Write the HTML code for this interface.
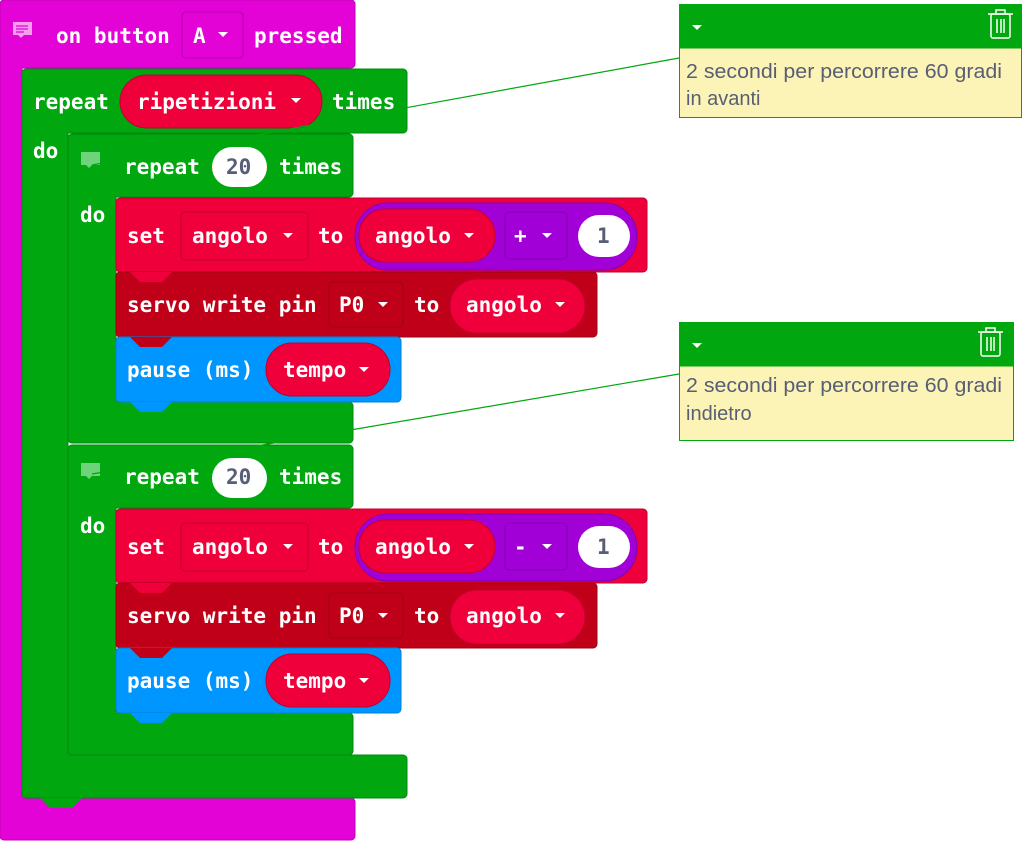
<!DOCTYPE html>
<html><head><meta charset="utf-8"><style>
html,body{margin:0;padding:0;background:#fff;width:1024px;height:841px;overflow:hidden}
svg text{font-family:"DejaVu Sans Mono","Liberation Mono",monospace;font-size:21px;font-weight:bold;fill:#fff;dominant-baseline:central}
svg text.c{font-family:"Liberation Sans",sans-serif;font-size:20px;font-weight:normal;fill:#575e75}
</style></head><body>
<svg width="1024" height="841" viewBox="0 0 1024 841" xmlns="http://www.w3.org/2000/svg">
<path d="M4,0 H351 a4,4 0 0 1 4,4 V64 a4,4 0 0 1 -4,4 H22 V798 H351 a4,4 0 0 1 4,4 V836 a4,4 0 0 1 -4,4 H4 a4,4 0 0 1 -4,-4 V4 a4,4 0 0 1 4,-4Z" fill="#e303d6" stroke="#c000b5" stroke-width="1"/>
<rect x="13" y="22" width="19" height="13" fill="#f59ef0"/><path d="M18,35 l3,3 l3,-3z" fill="#f59ef0"/>
<path d="M16,26h12M16,29h12M16,32h8" stroke="#e303d6" stroke-width="1.2"/>
<text x="56" y="36">on button</text>
<rect x="182" y="12" width="61" height="46" rx="4" fill="#e303d6" stroke="#b300a8"/>
<text x="193" y="36">A</text><path d="M218,32h10l-5,5z" fill="#fff"/>
<text x="254" y="36">pressed</text>

<path d="M26,69 H403 a4,4 0 0 1 4,4 V129 a4,4 0 0 1 -4,4 H68 V755 H403 a4,4 0 0 1 4,4 V794 a4,4 0 0 1 -4,4 H26 a4,4 0 0 1 -4,-4 V73 a4,4 0 0 1 4,-4Z" fill="#00a70f" stroke="#008a0c"/>
<path d="M40,798 l10,10 h22 l10,-10z" fill="#00a70f"/>
<text x="33" y="102">repeat</text>
<rect x="120" y="75" width="202" height="53" rx="26.5" fill="#f0003b" stroke="#c0002f"/>
<text x="137" y="102">ripetizioni</text><path d="M291,98h10l-5,5z" fill="#fff"/>
<text x="332" y="102">times</text>
<text x="33" y="151">do</text>

<path d="M72,134 H349 a4,4 0 0 1 4,4 V193 a4,4 0 0 1 -4,4 H116 V402 H349 a4,4 0 0 1 4,4 V439 a4,4 0 0 1 -4,4 H72 a4,4 0 0 1 -4,-4 V138 a4,4 0 0 1 4,-4Z" fill="#00a70f" stroke="#008a0c"/>
<rect x="81" y="152" width="19" height="13" fill="#6fd37b"/><path d="M86,165 l3,3 l3,-3z" fill="#6fd37b"/>
<text x="124" y="167">repeat</text>
<rect x="212" y="147" width="55" height="40" rx="20" fill="#fff"/>
<text x="226" y="167" style="fill:#575e75">20</text>
<text x="279" y="167">times</text>
<text x="80" y="215">do</text>

<path d="M72,445 H349 a4,4 0 0 1 4,4 V504 a4,4 0 0 1 -4,4 H116 V713 H349 a4,4 0 0 1 4,4 V751 a4,4 0 0 1 -4,4 H72 a4,4 0 0 1 -4,-4 V449 a4,4 0 0 1 4,-4Z" fill="#00a70f" stroke="#008a0c"/>
<rect x="81" y="463" width="19" height="13" fill="#6fd37b"/><path d="M86,476 l3,3 l3,-3z" fill="#6fd37b"/>
<text x="124" y="477">repeat</text>
<rect x="212" y="458" width="55" height="40" rx="20" fill="#fff"/>
<text x="226" y="477" style="fill:#575e75">20</text>
<text x="279" y="477">times</text>
<text x="80" y="526">do</text>

<g id="g1">
<rect x="116" y="198" width="531" height="74" rx="4" fill="#f0003b" stroke="#c0002f"/>
<text x="127" y="236">set</text>
<rect x="181" y="212" width="127" height="48" rx="4" fill="#f0003b" stroke="#c0002f"/>
<text x="192" y="236">angolo</text><path d="M283,233h10l-5,5z" fill="#fff"/>
<text x="318" y="236">to</text>
<rect x="355" y="203" width="282" height="67" rx="33" fill="#a100d6" stroke="#8000b0"/>
<rect x="359" y="209" width="136" height="53" rx="26" fill="#f0003b" stroke="#c0002f"/>
<text x="375" y="236">angolo</text><path d="M464,233h10l-5,5z" fill="#fff"/>
<rect x="505" y="212" width="62" height="47" rx="4" fill="#a100d6" stroke="#8000b0"/>
<text x="514" y="236">+</text><path d="M542,233h10l-5,5z" fill="#fff"/>
<rect x="578" y="215" width="52" height="42" rx="21" fill="#fff"/>
<text x="597" y="236" style="fill:#575e75">1</text>
<rect x="116" y="272" width="481" height="65" rx="4" fill="#bf0018" stroke="#9e0014"/>
<path d="M130,272 l10,10 h22 l10,-10z" fill="#f0003b"/>
<text x="127" y="305">servo write pin</text>
<rect x="329" y="282" width="74" height="45" rx="4" fill="#bf0018" stroke="#9e0014"/>
<text x="339" y="305">P0</text><path d="M378,302h10l-5,5z" fill="#fff"/>
<text x="414" y="305">to</text>
<rect x="450" y="279" width="135" height="54" rx="27" fill="#f0003b" stroke="#c0002f"/>
<text x="466" y="305">angolo</text><path d="M555,302h10l-5,5z" fill="#fff"/>
<rect x="116" y="337" width="285" height="65" rx="4" fill="#0096ff" stroke="#0080d8"/>
<path d="M130,337 l10,10 h22 l10,-10z" fill="#bf0018"/>
<path d="M130,402 l10,10 h22 l10,-10z" fill="#0096ff"/>
<text x="127" y="370">pause (ms)</text>
<rect x="266" y="343" width="124" height="53" rx="26" fill="#f0003b" stroke="#c0002f"/>
<text x="283" y="370">tempo</text><path d="M359,367h10l-5,5z" fill="#fff"/>
</g>
<g transform="translate(0,311)">
<rect x="116" y="198" width="531" height="74" rx="4" fill="#f0003b" stroke="#c0002f"/>
<text x="127" y="236">set</text>
<rect x="181" y="212" width="127" height="48" rx="4" fill="#f0003b" stroke="#c0002f"/>
<text x="192" y="236">angolo</text><path d="M283,233h10l-5,5z" fill="#fff"/>
<text x="318" y="236">to</text>
<rect x="355" y="203" width="282" height="67" rx="33" fill="#a100d6" stroke="#8000b0"/>
<rect x="359" y="209" width="136" height="53" rx="26" fill="#f0003b" stroke="#c0002f"/>
<text x="375" y="236">angolo</text><path d="M464,233h10l-5,5z" fill="#fff"/>
<rect x="505" y="212" width="62" height="47" rx="4" fill="#a100d6" stroke="#8000b0"/>
<text x="514" y="236">-</text><path d="M542,233h10l-5,5z" fill="#fff"/>
<rect x="578" y="215" width="52" height="42" rx="21" fill="#fff"/>
<text x="597" y="236" style="fill:#575e75">1</text>
<rect x="116" y="272" width="481" height="65" rx="4" fill="#bf0018" stroke="#9e0014"/>
<path d="M130,272 l10,10 h22 l10,-10z" fill="#f0003b"/>
<text x="127" y="305">servo write pin</text>
<rect x="329" y="282" width="74" height="45" rx="4" fill="#bf0018" stroke="#9e0014"/>
<text x="339" y="305">P0</text><path d="M378,302h10l-5,5z" fill="#fff"/>
<text x="414" y="305">to</text>
<rect x="450" y="279" width="135" height="54" rx="27" fill="#f0003b" stroke="#c0002f"/>
<text x="466" y="305">angolo</text><path d="M555,302h10l-5,5z" fill="#fff"/>
<rect x="116" y="337" width="285" height="65" rx="4" fill="#0096ff" stroke="#0080d8"/>
<path d="M130,337 l10,10 h22 l10,-10z" fill="#bf0018"/>
<path d="M130,402 l10,10 h22 l10,-10z" fill="#0096ff"/>
<text x="127" y="370">pause (ms)</text>
<rect x="266" y="343" width="124" height="53" rx="26" fill="#f0003b" stroke="#c0002f"/>
<text x="283" y="370">tempo</text><path d="M359,367h10l-5,5z" fill="#fff"/>
</g>

<line x1="92" y1="165" x2="679" y2="58" stroke="#00a70f" stroke-width="1.2"/>
<line x1="92" y1="474" x2="679" y2="374" stroke="#00a70f" stroke-width="1.2"/>

<rect x="679.5" y="4.5" width="342" height="113" fill="#fcf4b6" stroke="#00a70f"/>
<rect x="679.5" y="4.5" width="342" height="44" fill="#00a70f"/>
<path d="M692,25h10l-5,5z" fill="#fff"/>
<g fill="none" stroke="#fff" stroke-width="1.5"><rect x="991" y="14" width="19" height="24" rx="2"/><path d="M988,14h25M996,14v-4h9v4M997,19v14M1001,19v14M1004,19v14"/></g>
<text class="c" x="686" y="72" textLength="316" lengthAdjust="spacingAndGlyphs">2 secondi per percorrere 60 gradi</text>
<text class="c" x="686" y="99">in avanti</text>
<rect x="679.5" y="322.5" width="334" height="118" fill="#fcf4b6" stroke="#00a70f"/>
<rect x="679.5" y="322.5" width="334" height="44" fill="#00a70f"/>
<path d="M692,343h10l-5,5z" fill="#fff"/>
<g fill="none" stroke="#fff" stroke-width="1.5"><rect x="981" y="332" width="19" height="24" rx="2"/><path d="M978,332h25M986,332v-4h9v4M987,337v14M991,337v14M994,337v14"/></g>
<text class="c" x="686" y="386" textLength="316" lengthAdjust="spacingAndGlyphs">2 secondi per percorrere 60 gradi</text>
<text class="c" x="686" y="414">indietro</text>
</svg>
</body></html>
